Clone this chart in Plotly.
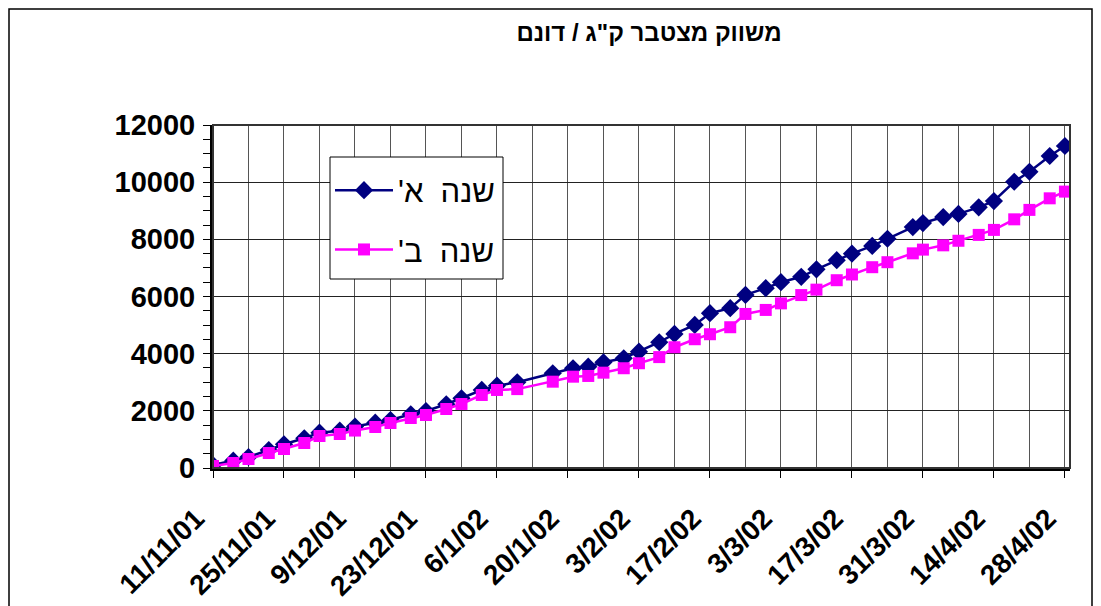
import plotly.graph_objects as go

dates = ["2001-11-11", "2001-11-15", "2001-11-18", "2001-11-22", "2001-11-25", "2001-11-29",
         "2001-12-02", "2001-12-06", "2001-12-09", "2001-12-13", "2001-12-16", "2001-12-20",
         "2001-12-23", "2001-12-27", "2001-12-30", "2002-01-03", "2002-01-06", "2002-01-10",
         "2002-01-17", "2002-01-21", "2002-01-24", "2002-01-27", "2002-01-31", "2002-02-03",
         "2002-02-07", "2002-02-10", "2002-02-14", "2002-02-17", "2002-02-21", "2002-02-24",
         "2002-02-28", "2002-03-03", "2002-03-07", "2002-03-10", "2002-03-14", "2002-03-17",
         "2002-03-21", "2002-03-24", "2002-03-29", "2002-03-31", "2002-04-04", "2002-04-07",
         "2002-04-11", "2002-04-14", "2002-04-18", "2002-04-21", "2002-04-25", "2002-04-28"]

year_a = [100, 255, 385, 630, 830, 1040, 1235, 1305, 1450, 1585, 1680, 1880,
          1995, 2230, 2440, 2730, 2880, 3000, 3315, 3490, 3545, 3700, 3840, 4070,
          4400, 4690, 5005, 5415, 5590, 6055, 6290, 6500, 6690, 6950, 7270, 7500,
          7770, 8020, 8430, 8570, 8780, 8890, 9120, 9340, 10015, 10365, 10915, 11265]

year_b = [70, 175, 315, 525, 665, 875, 1120, 1190, 1310, 1435, 1575, 1750,
          1855, 2065, 2240, 2555, 2730, 2760, 3020, 3195, 3220, 3335, 3490, 3665,
          3880, 4225, 4505, 4680, 4925, 5390, 5530, 5760, 6050, 6240, 6570, 6770,
          7025, 7200, 7510, 7640, 7790, 7950, 8155, 8330, 8700, 9030, 9435, 9670]

name_a = "שנה  א'\u200f"
name_b = "שנה  ב'\u200f"
title_text = 'משווק מצטבר ק"ג / דונם'

x_range = ["2001-11-11", "2002-04-29"]
y_range = [0, 12000]

FONT = "Arial, Liberation Sans, sans-serif"

# plot area in figure pixels
L, R, T, B = 205, 39, 117, 146
W, H = 1101, 606
PW, PH = W - L - R, H - T - B


def px_x(x):
    return (x - L) / PW


def px_y(y):
    return (T + PH - y) / PH


fig = go.Figure()
fig.add_trace(go.Scatter(
    x=dates, y=year_a, name=name_a, mode="lines+markers", legendgroup="a",
    line=dict(color="#000080", width=2.5),
    marker=dict(symbol="diamond", size=14, color="#000080"),
))
fig.add_trace(go.Scatter(
    x=dates, y=year_b, name=name_b, mode="lines+markers", legendgroup="b",
    line=dict(color="#FF00FF", width=2.5),
    marker=dict(symbol="square", size=12, color="#FF00FF"),
))

fig.update_layout(
    width=W, height=H,
    margin=dict(l=L, r=R, t=T, b=B, autoexpand=False),
    paper_bgcolor="white", plot_bgcolor="white",
    font=dict(family=FONT, color="black"),
    title=dict(text="<b>" + title_text + "</b>", x=641 / W, xanchor="center",
               y=1 - 25 / H, yanchor="middle", font=dict(size=24, family=FONT)),
    legend=dict(x=px_x(322), y=px_y(149), xanchor="left", yanchor="top",
                bgcolor="rgba(0,0,0,0)", borderwidth=0,
                font=dict(size=31, family=FONT), tracegroupgap=16,
                traceorder="grouped", itemwidth=58,
                title=dict(text=" ", font=dict(size=5))),
    showlegend=True,
    xaxis=dict(
        type="date", range=x_range, tick0="2001-11-11", dtick=14 * 86400000,
        tickformat="%-d/%-m/%y", tickangle=-45, automargin=False,
        tickfont=dict(size=28, family=FONT, color="black", weight="bold"),
        ticks="outside", ticklen=7, tickcolor="black", tickwidth=1,
        ticklabelstandoff=13, ticklabelshift=-17,
        showgrid=True, gridcolor="#555", gridwidth=1,
        minor=dict(dtick=7 * 86400000, tick0="2001-11-11", showgrid=True,
                   gridcolor="#555", gridwidth=1),
        showline=True, linecolor="black", linewidth=3, zeroline=False,
    ),
    yaxis=dict(
        range=y_range, dtick=2000, tickformat="d", automargin=False,
        tickfont=dict(size=29, family=FONT, color="black", weight="bold"),
        ticks="outside", ticklen=7, tickcolor="black", tickwidth=1,
        ticklabelstandoff=2,
        showgrid=True, gridcolor="#222", gridwidth=1,
        minor=dict(dtick=500, ticks="outside", ticklen=7, tickcolor="black", showgrid=False),
        showline=True, linecolor="black", linewidth=3, zeroline=False,
    ),
    shapes=[
        dict(type="rect", xref="paper", yref="paper", x0=0, x1=1, y0=0, y1=1,
             line=dict(color="#333", width=2), layer="above"),
        dict(type="rect", xref="paper", yref="paper",
             x0=px_x(322), x1=px_x(495), y0=px_y(271), y1=px_y(149),
             fillcolor="white", line=dict(color="black", width=1), layer="above"),
        dict(type="rect", xref="paper", yref="paper",
             x0=px_x(1), x1=px_x(1084), y0=px_y(640), y1=px_y(1),
             line=dict(color="black", width=1.5)),
    ],
)

fig.write_html("out.html")
